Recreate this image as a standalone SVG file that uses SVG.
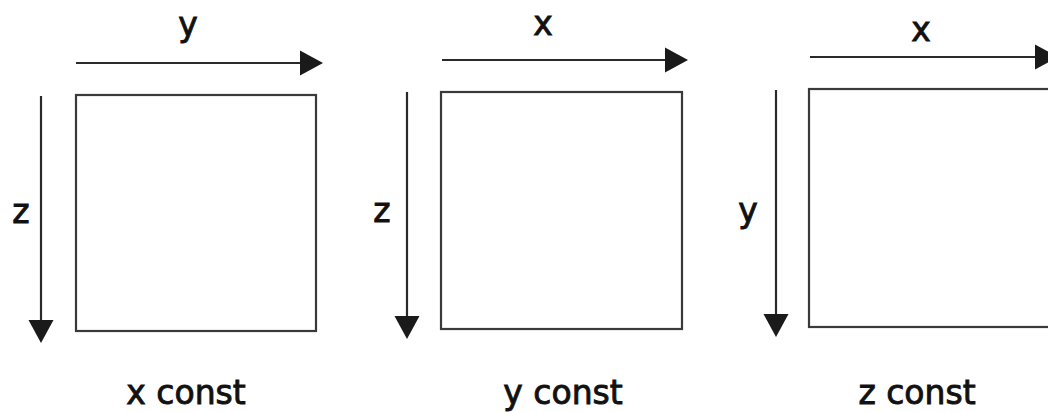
<svg xmlns="http://www.w3.org/2000/svg" width="1048" height="412" viewBox="0 0 1048 412">
<defs>
<marker id="ah" markerUnits="userSpaceOnUse" markerWidth="24" markerHeight="26" refX="0" refY="12.5" orient="auto" overflow="visible">
<path d="M0,0 L23,12.5 L0,25 Z" fill="#1a1a1a"/>
</marker>
<style>
.ax{stroke:#2a2a2a;stroke-width:2.2;fill:none;marker-end:url(#ah)}
.box{fill:#fff;stroke:#3a3a3a;stroke-width:2.2}
.lbl{font-family:"DejaVu Sans",Verdana,sans-serif;font-size:33px;fill:#111;stroke:#111;stroke-width:0.9;text-anchor:middle}
</style>
</defs>
<g id="connectors">
<line class="ax" x1="76" y1="63" x2="300" y2="63"/>
<line class="ax" x1="41" y1="96" x2="41" y2="320"/>
<line class="ax" x1="442" y1="60" x2="665" y2="60"/>
<line class="ax" x1="407" y1="92" x2="407" y2="316"/>
<line class="ax" x1="810" y1="57" x2="1035" y2="57"/>
<line class="ax" x1="776" y1="90" x2="776" y2="314"/>
</g>
<g id="panel-x-const">
<rect class="box" x="76" y="95" width="240" height="236"/>
<text class="lbl" x="188" y="36">y</text>
<text class="lbl" x="21" y="223">z</text>
<text class="lbl" x="186" y="404">x const</text>
</g>
<g id="panel-y-const">
<rect class="box" x="441" y="92" width="241" height="237"/>
<text class="lbl" x="543" y="35">x</text>
<text class="lbl" x="382" y="222">z</text>
<text class="lbl" x="563" y="404">y const</text>
</g>
<g id="panel-z-const">
<rect class="box" x="809" y="89" width="260" height="238"/>
<text class="lbl" x="921" y="41">x</text>
<text class="lbl" x="748" y="222">y</text>
<text class="lbl" x="917" y="404">z const</text>
</g>
</svg>
